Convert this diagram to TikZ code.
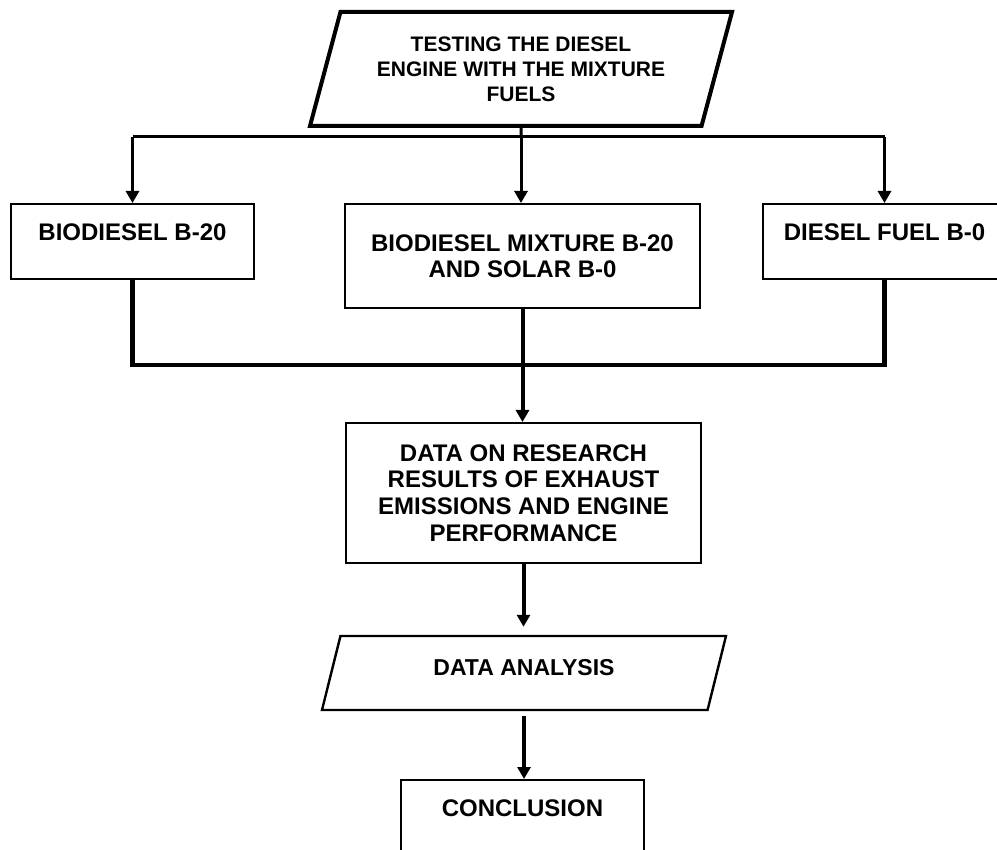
\documentclass[tikz,border=0pt]{standalone}
\usepackage{fontspec}
\setmainfont{Liberation Sans}
\usetikzlibrary{shapes.geometric,arrows.meta}
\begin{document}
\begin{tikzpicture}[x=0.5pt,y=-0.5pt,
 box/.style={draw,line width=1pt,inner sep=0pt,align=center,font=\bfseries\fontsize{12}{13}\selectfont},
 fuelbox/.style={box,minimum width=121.5pt,text height=18.3pt,text depth=19.2pt},
 slantbox/.style={trapezium,trapezium stretches body=true,draw,inner sep=0pt,align=center},
 link/.style={line width=1.5pt},
 linkarrow/.style={line width=1.5pt,-{Triangle[length=6pt,width=6.5pt]}},
 joinline/.style={line width=2.25pt}]
 \useasboundingbox (0,0) rectangle (997,850);
 \node[slantbox,trapezium left angle=75,trapezium right angle=105,line width=2pt,inner ysep=12.2pt,minimum width=211pt,minimum height=57pt,font=\bfseries\fontsize{10.5}{12.5}\selectfont] (test) at (521,69) {TESTING THE DIESEL\\ENGINE WITH THE MIXTURE\\FUELS};
 \node[fuelbox] (bio) at (132.5,241.5) {BIODIESEL B-20};
 \node[box,minimum width=177.5pt,minimum height=52pt] (mix) at (522.5,256) {BIODIESEL MIXTURE B-20\\AND SOLAR B-0};
 \node[fuelbox] (diesel) at (884.5,241.5) {DIESEL FUEL B-0};
 \node[box,minimum width=177.5pt,minimum height=70pt,font=\bfseries\fontsize{12}{13.3}\selectfont] (data) at (523.5,493) {DATA ON RESEARCH\\RESULTS OF EXHAUST\\EMISSIONS AND ENGINE\\PERFORMANCE};
 \node[slantbox,trapezium left angle=76,trapezium right angle=104,line width=1.2pt,minimum width=202pt,text height=19.6pt,text depth=17.4pt,font=\bfseries\fontsize{11.5}{13}\selectfont] (analysis) at (524,673) {DATA ANALYSIS};
 \node[fuelbox] (concl) at (522.5,817.5) {CONCLUSION};
 \coordinate (split) at (521,137);
 \coordinate (merge) at (521,365);
 \draw[link] (test.south) -- (split);
 \draw[link] (bio.north |- split) -- (diesel.north |- split);
 \draw[linkarrow] (bio.north |- split) -- (bio.north);
 \draw[linkarrow] (split) -- (split |- mix.north);
 \draw[linkarrow] (diesel.north |- split) -- (diesel.north);
 \draw[joinline] (bio.south) |- (merge) -| (diesel.south);
 \draw[linkarrow,line width=2pt] (mix.south) -- (mix.south |- data.north);
 \draw[linkarrow,line width=2pt,shorten >=4pt] (data.south) -- (data.south |- analysis.north);
 \draw[linkarrow,line width=2pt,shorten <=2.5pt] (analysis.south) -- (analysis.south |- concl.north);
\end{tikzpicture}
\end{document}
